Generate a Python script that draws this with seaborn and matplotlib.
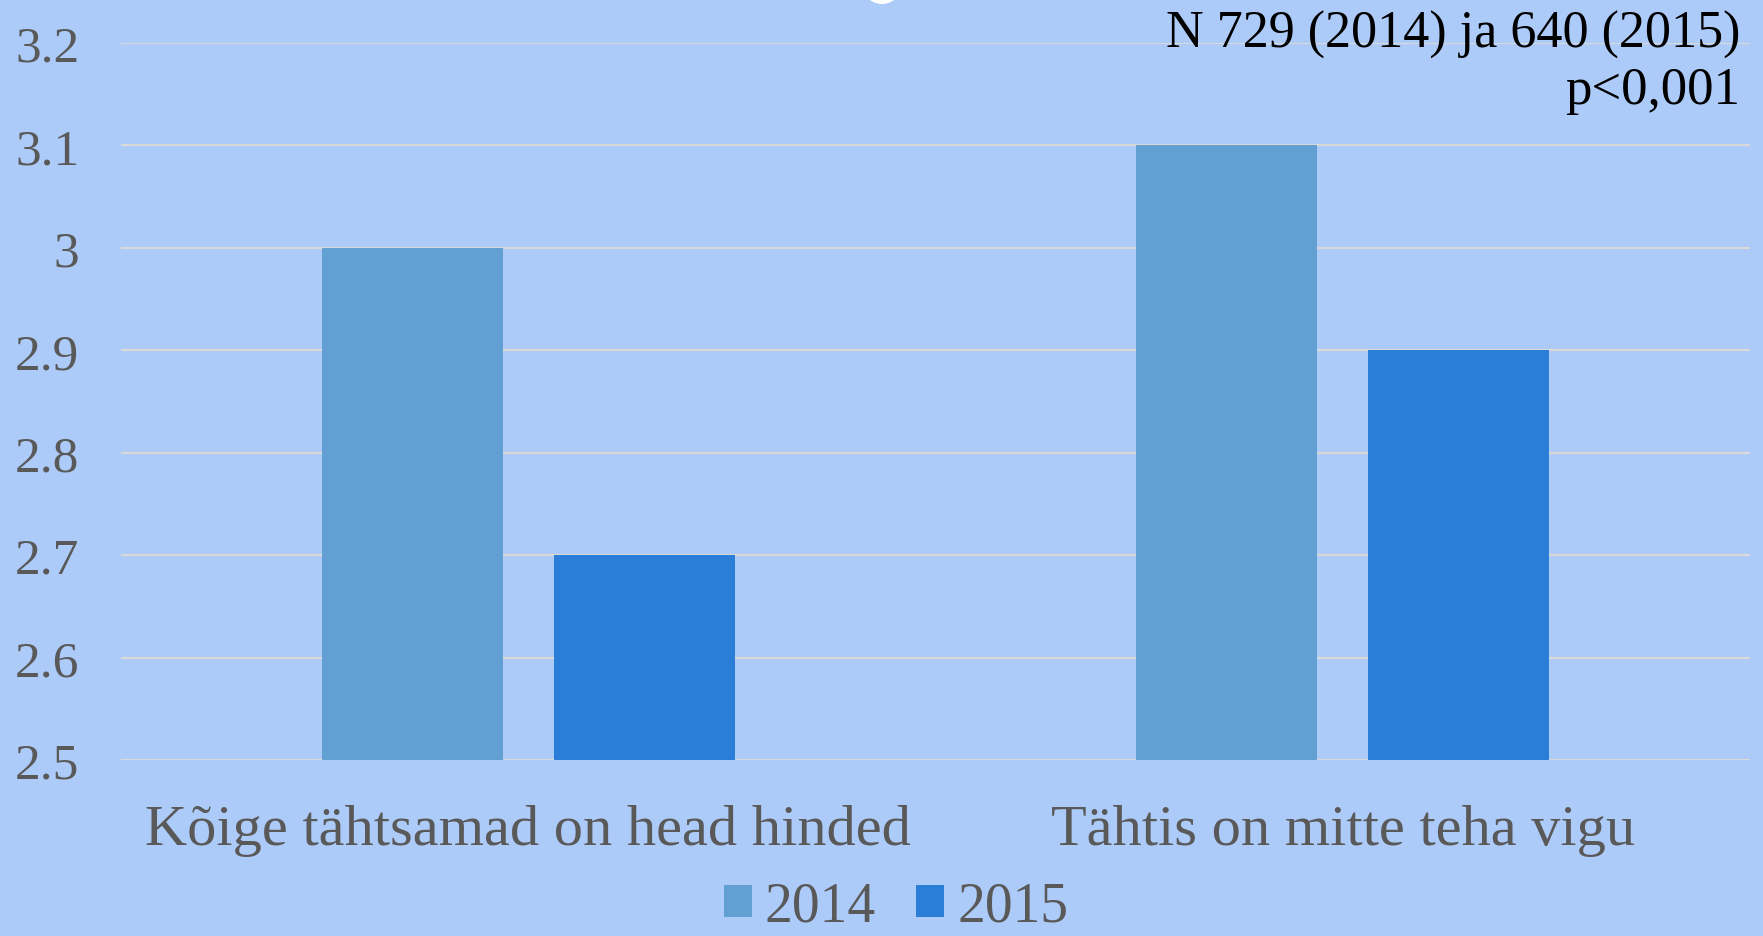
import matplotlib
matplotlib.use("Agg")
import matplotlib.pyplot as plt
import seaborn as sns
import pandas as pd
from matplotlib.patches import Ellipse, Patch

categories = ["Kõige tähtsamad on head hinded", "Tähtis on mitte teha vigu"]
years = ["2014", "2015"]
values_2014 = [3.0, 3.1]
values_2015 = [2.7, 2.9]
y_ticks = [2.5, 2.6, 2.7, 2.8, 2.9, 3.0, 3.1, 3.2]
y_tick_labels = ["2.5", "2.6", "2.7", "2.8", "2.9", "3", "3.1", "3.2"]
note_lines = ["N 729 (2014) ja 640 (2015)", "p<0,001"]

bg = "#ADCBF8"
colors = ["#629FD3", "#2B7ED8"]
text_color = "#595959"

df = pd.DataFrame({
    "category": categories * 2,
    "year": [years[0]] * len(categories) + [years[1]] * len(categories),
    "value": values_2014 + values_2015,
})

sns.set_theme(style="white")
plt.rcParams["font.family"] = ["Liberation Serif", "DejaVu Serif"]

fig = plt.figure(figsize=(17.63, 9.37), dpi=100, facecolor=bg)
ax = fig.add_axes([121 / 1763, 1 - 761 / 937, (1750 - 121) / 1763, (761 - 44) / 937])
ax.set_facecolor(bg)

sns.barplot(data=df, x="category", y="value", hue="year", order=categories,
            hue_order=years, palette=colors, width=0.57, gap=0.22,
            saturation=1, edgecolor="none", linewidth=0,
            ax=ax, legend=False, zorder=3)

ax.set_ylim(2.5, 3.2)
ax.set_xlim(-0.5, 1.5)
ax.set_yticks(y_ticks)
ax.set_yticklabels(y_tick_labels)
ax.yaxis.grid(True, color="#D9D9D9", linewidth=1.6, zorder=0)
ax.set_axisbelow(True)
for s in ax.spines.values():
    s.set_visible(False)
ax.tick_params(axis="y", length=0, pad=30, labelsize=37, labelcolor=text_color)
ax.tick_params(axis="x", length=0, pad=32, labelsize=42, labelcolor=text_color)
ax.set_xlabel("")
ax.set_ylabel("")

handles = [Patch(facecolor=c, edgecolor="none") for c in colors]
fig.legend(handles, years, loc="center", bbox_to_anchor=(896 / 1763, 1 - 908 / 937),
           ncol=2, frameon=False, fontsize=40, labelcolor=text_color,
           handlelength=0.5, handleheight=0.5, handletextpad=0.24,
           columnspacing=0.72, borderpad=0)

fig.text(1740 / 1763, 1 - 35 / 937, note_lines[0], ha="right", va="center",
         fontsize=37.5, color="black")
fig.text(1740 / 1763, 1 - 91 / 937, note_lines[1], ha="right", va="center",
         fontsize=38, color="black")

fig.patches.append(Ellipse((882 / 1763, 1 - (-22) / 937), 46 / 1763, 54 / 937,
                           transform=fig.transFigure, facecolor="white",
                           edgecolor="none"))

fig.savefig("out.png", dpi=100, facecolor=bg)
